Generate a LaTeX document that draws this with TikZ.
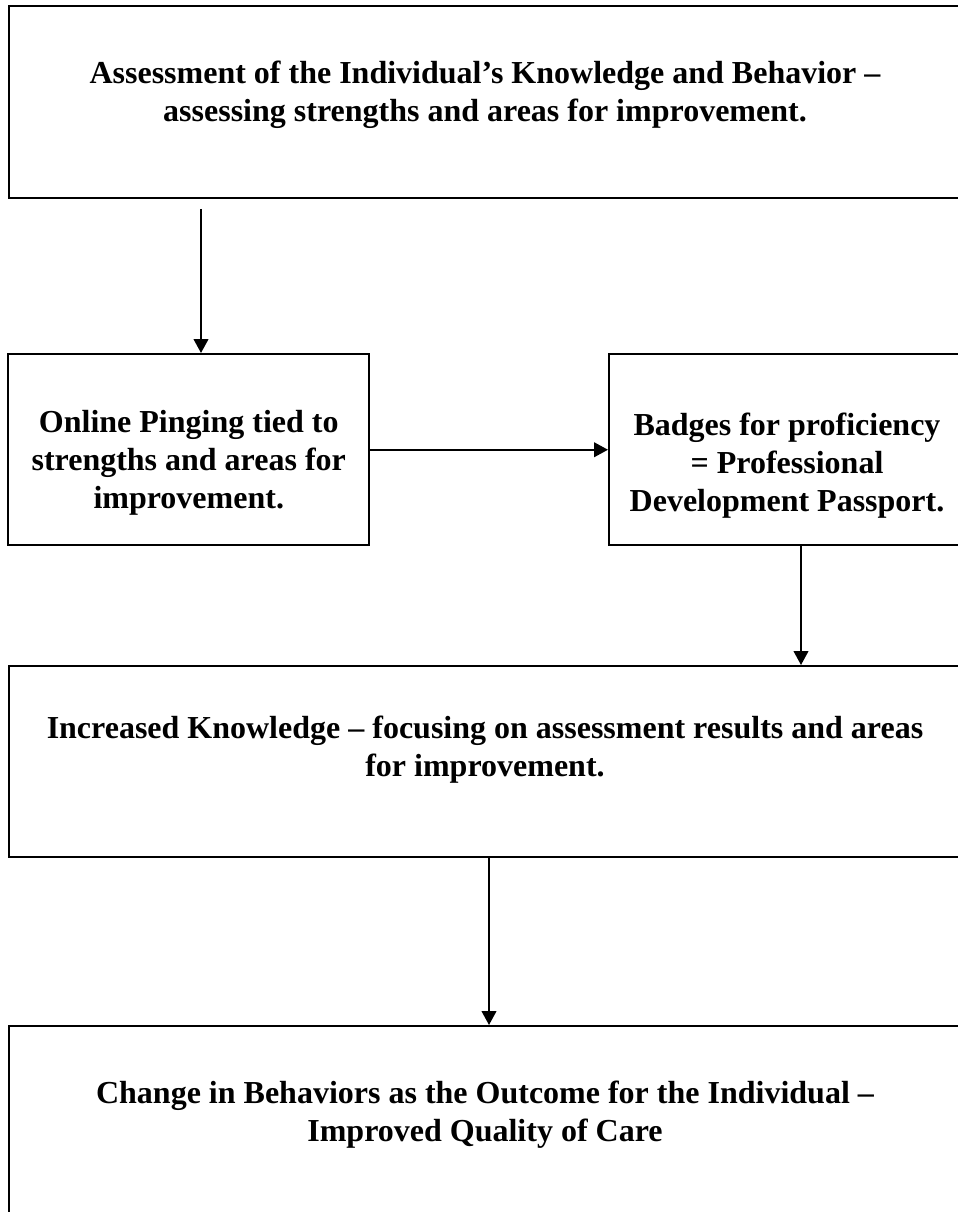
\documentclass[tikz,border=0pt]{standalone}
\usepackage{fontspec}
\setmainfont{Liberation Serif}
\usepackage{tikz}
\usetikzlibrary{arrows.meta}
\pgfdeclarelayer{edgelayer}
\pgfdeclarelayer{nodelayer}
\pgfsetlayers{edgelayer,nodelayer,main}
\tikzstyle{flowbox} = [draw, line width=1.5pt, rectangle, inner sep=0pt]
\tikzstyle{boxtext} = [align=center, font=\fontsize{24pt}{28.5pt}\selectfont\bfseries]
\tikzstyle{flowarrow} = [line width=1.5pt, -{Triangle[length=10.5pt, width=11pt]}]

\begin{document}
\begin{tikzpicture}[x=0.75pt, y=-0.75pt]
	\useasboundingbox (0, 0) rectangle (957, 1212);
	\begin{pgfonlayer}{nodelayer}
		\node [style=flowbox, minimum width=715.1pt, minimum height=144pt] (b1) at (485.25, 102) {};
		\node [style=flowbox, minimum width=270.4pt, minimum height=143.6pt] (b2) at (188.75, 449.75) {};
		\node [style=flowbox, minimum width=264.75pt, minimum height=143.6pt] (b3) at (785.5, 449.75) {};
		\node [style=flowbox, minimum width=715.1pt, minimum height=143.6pt] (b4) at (485.25, 761.75) {};
		\node [style=flowbox, minimum width=715.1pt, minimum height=144pt] (b5) at (485.25, 1122) {};
		\node [style=boxtext] (t1) at (485, 95) {Assessment of the Individual’s Knowledge and Behavior –\\assessing strengths and areas for improvement.};
		\node [style=boxtext] (t2) at (188.75, 463) {Online Pinging tied to\\strengths and areas for\\improvement.};
		\node [style=boxtext] (t3) at (787, 466) {Badges for proficiency\\= Professional\\Development Passport.};
		\node [style=boxtext] (t4) at (485, 750) {Increased Knowledge – focusing on assessment results and areas\\for improvement.};
		\node [style=boxtext] (t5) at (485, 1115) {Change in Behaviors as the Outcome for the Individual –\\Improved Quality of Care};
		\coordinate (a1) at (201, 209);
		\coordinate (a3) at (801, 0);
		\coordinate (a4) at (489, 0);
	\end{pgfonlayer}
	\begin{pgfonlayer}{edgelayer}
		\draw [style=flowarrow] (a1) to (b2.north -| a1);
		\draw [style=flowarrow] (b2.east) to (b3.west);
		\draw [style=flowarrow] (b3.south -| a3) to (b4.north -| a3);
		\draw [style=flowarrow] (b4.south -| a4) to (b5.north -| a4);
	\end{pgfonlayer}
\end{tikzpicture}
\end{document}
